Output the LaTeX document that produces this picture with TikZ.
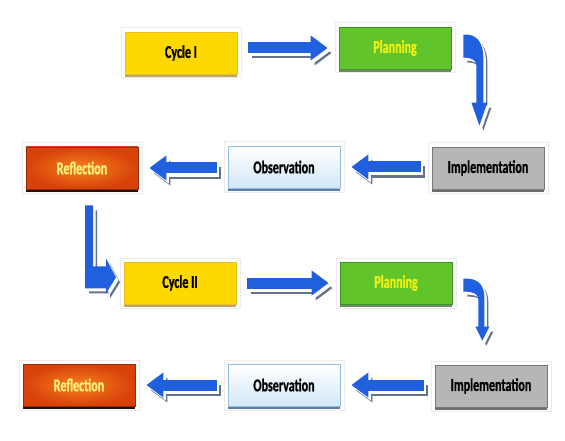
\documentclass[tikz,border=0pt]{standalone}
\usepackage{fontspec}
\usepackage{xcolor}
\usepackage{tikz}
\usetikzlibrary{arrows.meta, positioning, shadows}

\newfontfamily\boxfont[FakeStretch=0.67, FakeBold=1]{Carlito}

\definecolor{cycfill}{RGB}{255,216,0}
\definecolor{cycline}{RGB}{235,190,40}
\definecolor{cycshade}{RGB}{190,165,100}
\definecolor{planfill}{RGB}{98,196,43}
\definecolor{planline}{RGB}{60,150,35}
\definecolor{planshade}{RGB}{110,135,100}
\definecolor{plantext}{RGB}{240,240,20}
\definecolor{implfill}{RGB}{182,182,182}
\definecolor{implline}{RGB}{120,120,120}
\definecolor{implshade}{RGB}{110,110,110}
\definecolor{obsbot}{RGB}{210,232,248}
\definecolor{obsline}{RGB}{150,190,225}
\definecolor{obsshade}{RGB}{90,125,170}
\definecolor{reflin}{RGB}{245,130,30}
\definecolor{reflout}{RGB}{215,65,10}
\definecolor{reflline}{RGB}{150,45,10}
\definecolor{reflshade}{RGB}{30,20,15}
\definecolor{refltext}{RGB}{255,238,120}
\definecolor{arrowblue}{RGB}{32,95,222}
\definecolor{rimgray}{RGB}{100,115,140}

\begin{document}
\begin{tikzpicture}[x=1pt, y=-1pt,
    stage/.style={line width=0.8pt, minimum width=112pt, minimum height=42pt, inner sep=0pt,
      font=\boxfont\bfseries\fontsize{18}{18}\selectfont,
      preaction={draw=gray!15, line width=9pt},
      preaction={draw=white, line width=7pt}},
    cyclebox/.style={stage, fill=cycfill, draw=cycline,
      drop shadow={shadow xshift=0pt, shadow yshift=-3pt, fill=cycshade, opacity=1}},
    planbox/.style={stage, fill=planfill, draw=planline, text=plantext,
      drop shadow={shadow xshift=0pt, shadow yshift=-3pt, fill=planshade, opacity=1}},
    implbox/.style={stage, fill=implfill, draw=implline,
      drop shadow={shadow xshift=0pt, shadow yshift=-3pt, fill=implshade, opacity=1}},
    obsbox/.style={stage, top color=white, bottom color=obsbot, draw=obsline,
      drop shadow={shadow xshift=0pt, shadow yshift=-3pt, fill=obsshade, opacity=1}},
    reflbox/.style={stage, inner color=reflin, outer color=reflout, draw=reflline, text=refltext,
      drop shadow={shadow xshift=0pt, shadow yshift=-3pt, fill=reflshade, opacity=1}},
    flow/.style={line width=11pt, -{Triangle[width=24pt, length=17pt]}, shorten <=11pt, shorten >=11pt},
    flowrim/.style={color=rimgray, transform canvas={xshift=4pt, yshift=-5pt}},
    flowgap/.style={color=white, transform canvas={xshift=2.5pt, yshift=-3pt}},
    flowblue/.style={color=arrowblue}]
        \useasboundingbox (0,0) rectangle (565,441);

        % Cycle I
        \node[cyclebox] (cyc1) at (181,53) {Cycle I};
        \node[planbox] (plan1) at (395,48) {Planning};
        \node[implbox] (impl1) at (488,168) {Implementation};
        \node[obsbox] (obs1) at (284,167) {Observation};
        \node[reflbox] (refl1) at (82,168) {Reflection};

        % Cycle II
        \node[cyclebox] (cyc2) at (180,283) {Cycle II};
        \node[planbox] (plan2) at (396,283) {Planning};
        \node[implbox] (impl2) at (491,386) {Implementation};
        \node[obsbox] (obs2) at (284,385) {Observation};
        \node[reflbox] (refl2) at (79,385) {Reflection};

        % Arrows: rim, gap, then blue body
        \foreach \lay in {flowrim, flowgap, flowblue} {
            \foreach \src/\sa/\dst/\da in {cyc1/east/plan1/west, impl1/west/obs1/east, obs1/west/refl1/east,
                                          cyc2/east/plan2/west, impl2/west/obs2/east, obs2/west/refl2/east} {
                \draw[flow, \lay] (\src.\sa |- \dst.\da) -- (\dst.\da);
            }
            \fill[\lay, shift={(plan1.north east)}] (12,8) .. controls (25,7) and (32,15) .. (32,33) -- (32,76)
                -- (36,76) -- (28,99) -- (20,76) -- (25,76) -- (25,39) .. controls (25,34) and (21,31) .. (12,31) -- cycle;
            \fill[\lay, shift={(plan2.north east)}] (11,17) .. controls (25,16) and (32,23) .. (32,36) -- (32,65)
                -- (37,65) -- (30,79) -- (23,65) -- (26,65) -- (26,38) .. controls (26,33) and (22,30) .. (11,30) -- cycle;
            \fill[\lay, shift={(refl1.south)}] (3,16) -- (11,16) -- (11,77) -- (24,77) -- (24,69)
                -- (34,88) -- (24,104) -- (24,99) -- (3,99) -- cycle;
        }
\end{tikzpicture}
\end{document}
